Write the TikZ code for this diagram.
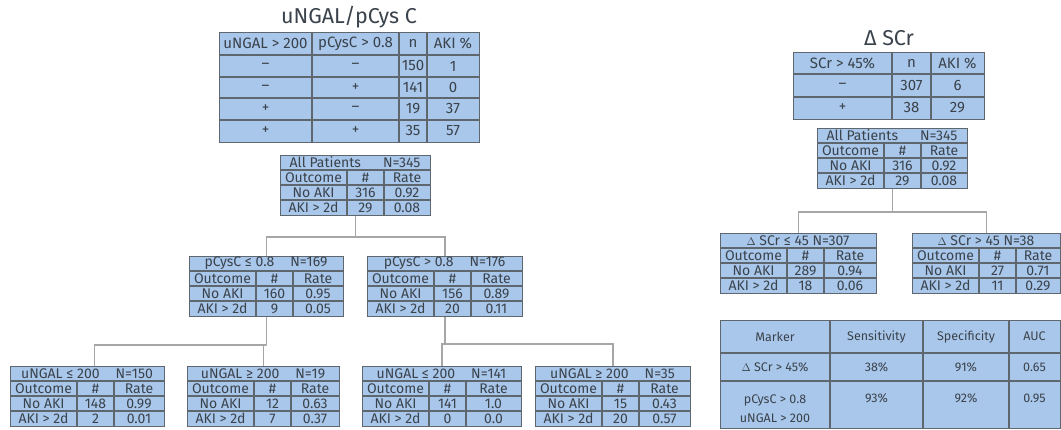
\documentclass[tikz,border=0pt]{standalone}
\usepackage{fontspec}
\setmainfont{Fira Sans}
\usetikzlibrary{calc}
\definecolor{Cell}{HTML}{A9C7EA}
\definecolor{Rule}{HTML}{5E666E}
\definecolor{Ink}{HTML}{3A424B}
\definecolor{Link}{HTML}{A6A6A6}
\tikzset{
  cellbox/.style={draw=Rule,fill=Cell,line width=1.2pt,inner sep=0pt,anchor=north west},
  rule/.style={draw=Rule,line width=1.2pt},
  link/.style={draw=Link,line width=1.4pt},
  treetxt/.style={text=Ink,inner sep=0pt,font=\fontsize{14}{15}\selectfont},
  tabtxt/.style={text=Ink,inner sep=0pt,font=\fontsize{15}{16}\selectfont},
  cmptxt/.style={text=Ink,inner sep=0pt,align=center,font=\fontsize{12.5}{19}\selectfont},
  title/.style={text=Ink,inner sep=0pt,font=\fontsize{21.5}{23}\selectfont}
}
\newcommand{\dlt}{{\fontsize{11}{11}\selectfont$\Delta$}}
% name, left, top, width, header, n no-aki, rate, n aki, rate
\newcommand{\treebox}[9]{%
  \node[cellbox,minimum width=#4,minimum height=60] (#1) at (#2,#3) {};
  \foreach \dy in {15,30,45} \draw[rule] ({#2},{#3+\dy}) -- ({#2+#4},{#3+\dy});
  \foreach \dx in {67,104} \draw[rule] ({#2+\dx},{#3+15}) -- ({#2+\dx},{#3+60});
  \node[treetxt] (#1-h) at ({#2+#4/2},{#3+7.5}) {#5};
  \node[treetxt] (#1-o) at ({#2+33.5},{#3+22.5}) {Outcome};
  \node[treetxt] (#1-c) at ({#2+85.5},{#3+22.5}) {\#};
  \node[treetxt] (#1-r) at ({#2+52+#4/2},{#3+22.5}) {Rate};
  \node[treetxt] (#1-na) at ({#2+33.5},{#3+37.5}) {No AKI};
  \node[treetxt] (#1-nn) at ({#2+85.5},{#3+37.5}) {#6};
  \node[treetxt] (#1-nr) at ({#2+52+#4/2},{#3+37.5}) {#7};
  \node[treetxt] (#1-aa) at ({#2+33.5},{#3+52.5}) {AKI > 2d};
  \node[treetxt] (#1-an) at ({#2+85.5},{#3+52.5}) {#8};
  \node[treetxt] (#1-ar) at ({#2+52+#4/2},{#3+52.5}) {#9};
}

\begin{document}
\begin{tikzpicture}[x=1pt,y=-1pt]
  \useasboundingbox (0,0) rectangle (1061,430);

  \node[title] (ttlA) at (349,17) {uNGAL/pCys C};
  \node[cellbox,minimum width=260,minimum height=110] (tabA) at (219,32) {};
  \foreach \y in {55,77,98,120} \draw[rule] (219,\y) -- (479,\y);
  \foreach \x in {312,399,427} \draw[rule] (\x,32) -- (\x,142);
  \node[tabtxt] (a11) at (265.5,43.5) {uNGAL > 200};
  \node[tabtxt] (a12) at (355.5,43.5) {pCysC > 0.8};
  \node[tabtxt] (a13) at (413,43.5) {n};
  \node[tabtxt] (a14) at (453,43.5) {AKI \%};
  \node[tabtxt] (a21) at (265.5,66) {--};
  \node[tabtxt] (a22) at (355.5,66) {--};
  \node[tabtxt] (a23) at (413,66) {150};
  \node[tabtxt] (a24) at (453,66) {1};
  \node[tabtxt] (a31) at (265.5,87.5) {--};
  \node[tabtxt] (a32) at (355.5,87.5) {+};
  \node[tabtxt] (a33) at (413,87.5) {141};
  \node[tabtxt] (a34) at (453,87.5) {0};
  \node[tabtxt] (a41) at (265.5,109) {+};
  \node[tabtxt] (a42) at (355.5,109) {--};
  \node[tabtxt] (a43) at (413,109) {19};
  \node[tabtxt] (a44) at (453,109) {37};
  \node[tabtxt] (a51) at (265.5,131) {+};
  \node[tabtxt] (a52) at (355.5,131) {+};
  \node[tabtxt] (a53) at (413,131) {35};
  \node[tabtxt] (a54) at (453,131) {57};

  \node[title] (ttlB) at (889,38) {Δ SCr};
  \node[cellbox,minimum width=191,minimum height=67] (tabB) at (793,52) {};
  \foreach \y in {74,97} \draw[rule] (793,\y) -- (984,\y);
  \foreach \x in {892,931} \draw[rule] (\x,52) -- (\x,119);
  \node[tabtxt] (b11) at (842.5,63) {SCr > 45\%};
  \node[tabtxt] (b12) at (911.5,63) {n};
  \node[tabtxt] (b13) at (957.5,63) {AKI \%};
  \node[tabtxt] (b21) at (842.5,85.5) {--};
  \node[tabtxt] (b22) at (911.5,85.5) {307};
  \node[tabtxt] (b23) at (957.5,85.5) {6};
  \node[tabtxt] (b31) at (842.5,108) {+};
  \node[tabtxt] (b32) at (911.5,108) {38};
  \node[tabtxt] (b33) at (957.5,108) {29};

  \treebox{LA}{280}{155}{150}{All Patients\hspace{22pt}N=345}{316}{0.92}{29}{0.08}
  \treebox{ML}{189}{256}{154}{pCysC ≤ 0.8\hspace{16pt}N=169}{160}{0.95}{9}{0.05}
  \treebox{MR}{367}{256}{155}{pCysC > 0.8\hspace{16pt}N=176}{156}{0.89}{20}{0.11}
  \treebox{BA}{10}{366}{154}{uNGAL ≤ 200\hspace{16pt}N=150}{148}{0.99}{2}{0.01}
  \treebox{BB}{187}{366}{152}{uNGAL ≥ 200\hspace{16pt}N=19}{12}{0.63}{7}{0.37}
  \treebox{BC}{362}{366}{159}{uNGAL ≤ 200\hspace{16pt}N=141}{141}{1.0}{0}{0.0}
  \treebox{BD}{535}{366}{155}{uNGAL ≥ 200\hspace{16pt}N=35}{15}{0.43}{20}{0.57}
  \treebox{RA}{817}{128}{150}{All Patients\hspace{22pt}N=345}{316}{0.92}{29}{0.08}
  \treebox{RL}{720}{233}{156}{\dlt\ SCr ≤ 45 N=307}{289}{0.94}{18}{0.06}
  \treebox{RR}{912}{233}{148}{\dlt\ SCr > 45 N=38}{27}{0.71}{11}{0.29}

  \draw[link] (LA.south) -- ++(0,21) coordinate (LAj);
  \draw[link] (ML.north) |- (LAj) -| (MR.north);
  \draw[link] (ML.south) -- ++(0,28) coordinate (MLj);
  \draw[link] ([xshift=7pt]BA.north) |- (MLj) -| (BB.north);
  \draw[link] (MR.south) -- ++(0,27) coordinate (MRj);
  \draw[link] (BC.north) |- (MRj) -| (BD.north);
  \draw[link] (RA.south) -- ++(0,23) coordinate (RAj);
  \draw[link] (RL.north) |- (RAj) -| (RR.north);

  \node[cellbox,minimum width=340,minimum height=108] (tabC) at (720,320) {};
  \foreach \y in {353,381} \draw[rule] (720,\y) -- (1060,\y);
  \foreach \x in {830,923,1009} \draw[rule] (\x,320) -- (\x,428);
  \node[cmptxt] (c11) at (775,336.5) {Marker};
  \node[cmptxt] (c12) at (876.5,336.5) {Sensitivity};
  \node[cmptxt] (c13) at (966,336.5) {Specificity};
  \node[cmptxt] (c14) at (1034.5,336.5) {AUC};
  \node[cmptxt] (c21) at (775,367) {\dlt\ SCr > 45\%};
  \node[cmptxt] (c22) at (876.5,367) {38\%};
  \node[cmptxt] (c23) at (966,367) {91\%};
  \node[cmptxt] (c24) at (1034.5,367) {0.65};
  \node[cmptxt,anchor=north] (c31) at (775,395) {pCysC > 0.8\\uNGAL > 200};
  \node[cmptxt] (c32) at (876.5,398) {93\%};
  \node[cmptxt] (c33) at (966,398) {92\%};
  \node[cmptxt] (c34) at (1034.5,398) {0.95};
\end{tikzpicture}
\end{document}
